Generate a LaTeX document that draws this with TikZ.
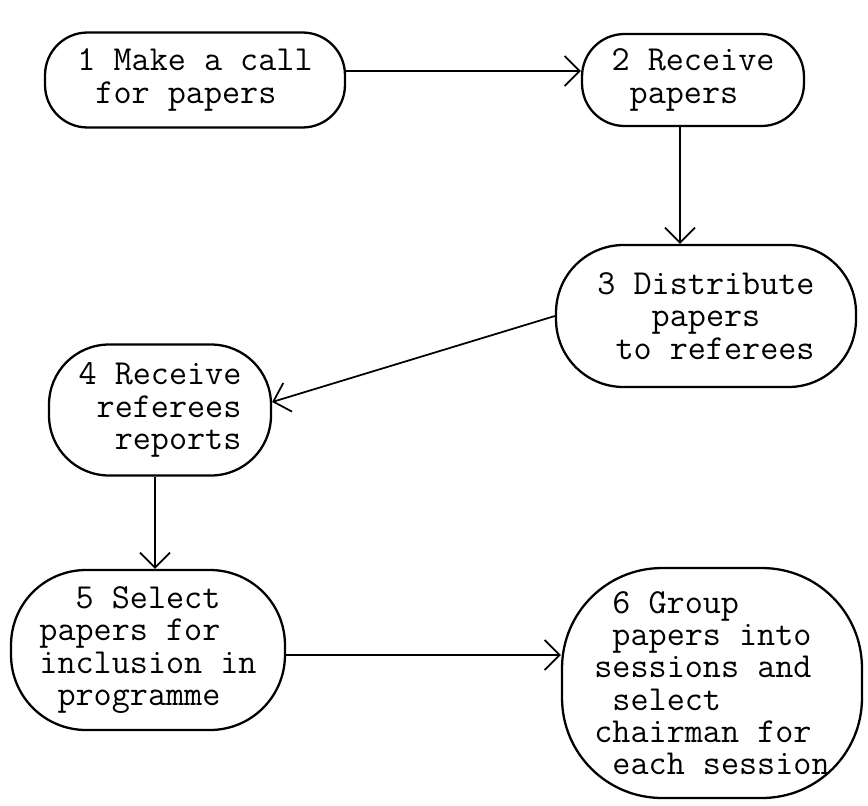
\documentclass[tikz,border=0pt]{standalone}
\usepackage{fontspec}
\usepackage{tikz}
\usetikzlibrary{arrows.meta}
\newcommand\pad{\hphantom{0}}

\begin{document}
\begin{tikzpicture}[
    x=0.02cm, y=-0.02cm,
    >={Straight Barb[length=3mm, width=6mm]},
    box style/.style={draw, line width=1.3pt, inner sep=0pt, font=\ttfamily\fontsize{20pt}{18.4pt}\selectfont},
    arrow style/.style={line width=1pt, ->}
]

\useasboundingbox (0,0) rectangle (868,805);

% Draw the boxes
\node[box style, align=left, minimum width=6cm, minimum height=1.9cm, rounded corners=0.85cm] (call) at (195,80) {1 Make a call\\\pad for papers};
\node[box style, align=left, minimum width=4.44cm, minimum height=1.84cm, rounded corners=0.85cm] (receive) at (693,80) {2 Receive\\\pad papers};
\node[box style, align=left, minimum width=6cm, minimum height=2.84cm, rounded corners=1.35cm] (distribute) at (706,316) {3 Distribute\\\pad\pad\pad papers\\\pad to referees};
\node[box style, align=right, minimum width=4.44cm, minimum height=2.62cm, rounded corners=1.2cm] (reports) at (160,410) {4 Receive\\referees\\reports};
\node[box style, align=left, minimum width=5.48cm, minimum height=3.2cm, rounded corners=1.5cm] (select) at (148,650) {\pad\pad 5 Select\\papers for\\inclusion in\\\pad programme};
\node[box style, align=left, minimum width=6cm, minimum height=4.6cm, rounded corners=2cm] (group) at (712,683) {\pad 6 Group\\\pad papers into\\sessions and\\\pad select\\chairman for\\\pad each session};

% Draw the arrows
\draw[arrow style] ([yshift=0.18cm]call.east) -- ([yshift=0.18cm]receive.west);
\draw[arrow style] ([xshift=-0.26cm]receive.south) -- ([xshift=-0.26cm]receive.south |- distribute.north);
\draw[arrow style] (distribute.west) -- ([yshift=0.16cm]reports.east);
\draw[arrow style] ([xshift=-0.1cm]reports.south) -- ([xshift=-0.1cm]reports.south |- select.north);
\draw[arrow style] ([yshift=-0.1cm]select.east) -- ([yshift=-0.1cm]select.east -| group.west);
\end{tikzpicture}
\end{document}
